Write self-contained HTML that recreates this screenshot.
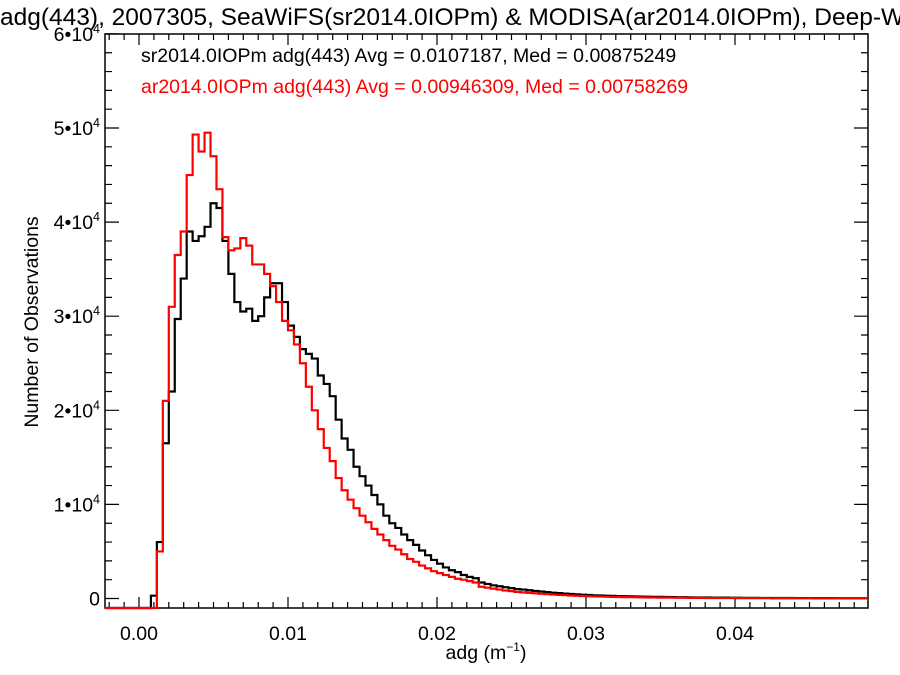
<!DOCTYPE html>
<html><head><meta charset="utf-8"><style>
html,body{margin:0;padding:0;background:#fff;width:900px;height:675px;overflow:hidden}
svg{display:block;font-family:"Liberation Sans",Helvetica,Arial,sans-serif}
</style></head><body>
<svg id="chart" width="900" height="675" viewBox="0 0 900 675" xmlns="http://www.w3.org/2000/svg">
<text x="0" y="25" font-size="24.5" fill="#000">adg(443), 2007305, SeaWiFS(sr2014.0IOPm) &amp; MODISA(ar2014.0IOPm), Deep-Water</text>
<text x="141" y="62" font-size="19.5" fill="#000">sr2014.0IOPm adg(443) Avg = 0.0107187, Med = 0.00875249</text>
<text x="141" y="93" font-size="19.5" fill="#ff0000">ar2014.0IOPm adg(443) Avg = 0.00946309, Med = 0.00758269</text>
<text transform="translate(38,322) rotate(-90)" text-anchor="middle" font-size="19.5">Number of Observations</text>
<text x="486" y="659" text-anchor="middle" font-size="19.5">adg (m<tspan dy="-8" font-size="12">−1</tspan><tspan dy="8">)</tspan></text>
<g id="axes"></g>
<g id="series"></g>
</svg>
<script>
const binWidth = 0.0004;
const sr2014 = [0,0,300,6000,16500,22000,29700,34000,39000,38000,38500,39500,42000,41500,38000,34500,31500,30500,30800,29500,30000,32000,33500,33500,31500,29000,27800,26500,26000,25500,23700,22800,21500,19000,17000,15800,14000,13000,12000,11000,10000,8800,8000,7500,6800,6200,5700,5100,4600,4100,3700,3300,3000,2800,2500,2300,2150,1700,1550,1400,1300,1200,1100,1000,950,880,800,740,680,620,570,520,480,440,400,370,
340,320,300,280,260,245,230,215,200,190,180,170,160,150,140,130,120,115,110,105,100,95,90,85,80,75,70,65,60,58,56,54,52,50,48,46,44,42,40,38,36,34,32,30,28,26];
const ar2014 = [0,0,0,5000,21000,31000,36500,39000,45000,49300,47500,49500,47000,43500,38400,37000,37200,38300,37500,35500,35500,34500,33200,31500,29500,28500,27000,25000,22500,20000,18000,16000,14600,12800,11500,10500,9600,8800,8100,7400,6800,6200,5600,5200,4700,4200,3900,3500,3200,2900,2700,2500,2300,2100,2000,1850,1700,1250,1150,1050,950,850,780,700,650,600,550,500,460,420,380,350,320,290,260,240,
220,205,190,175,160,150,140,130,120,110,100,95,90,85,80,75,70,65,60,55,50,48,46,44,42,40,38,36,34,32,30,28,26,24,22,20,18,16,14,12,10,9,8,7,6,5];
const xTickValues = [0,0.01,0.02,0.03,0.04];
const xTickLabels = ["0.00","0.01","0.02","0.03","0.04"];
const yTickValues = [0,10000,20000,30000,40000,50000,60000];
const yTickMant = ["0","1","2","3","4","5","6"];

const L=105,R=868,T=34,B=608;
const x0px=139, pxPerX=14900;
const y0px=598.5, pxPerY=94.1/10000;
const X=v=>x0px+v*pxPerX;
const Y=v=>Math.max(T,Math.min(B, v<=0?B:y0px-v*pxPerY));
const NS="http://www.w3.org/2000/svg";
function mk(tag,attrs,parent){const e=document.createElementNS(NS,tag);for(const k in attrs)e.setAttribute(k,attrs[k]);parent.appendChild(e);return e;}
const axes=document.getElementById('axes');
const frame=mk('rect',{x:L,y:T,width:R-L,height:B-T,fill:'none',stroke:'#000','stroke-width':1.5},axes);


let d='';
for(let k=-2;k<=48;k++){const v=k*0.001;const px=X(v);if(px<L||px>R)continue;const len=(k%10===0)?11:6;d+=`M${px},${B}v${-len}M${px},${T}v${len}`;}
for(let k=0;k<=30;k++){const v=k*2000;const py=y0px-v*pxPerY;if(py<T-0.5)continue;const len=(k%5===0)?14:7;d+=`M${L},${py}h${len}M${R},${py}h${-len}`;}
const tp=mk('path',{d:d,stroke:'#000','stroke-width':1.2,fill:'none'},axes);


xTickValues.forEach((v,i)=>{const t=mk('text',{x:X(v),y:640,'text-anchor':'middle','font-size':19.5},axes);t.textContent=xTickLabels[i];

});
yTickValues.forEach((v,i)=>{const py=y0px-v*pxPerY;const t=mk('text',{x:100,y:py+7,'text-anchor':'end','font-size':19.5},axes);


if(v===0){t.textContent='0';}else{t.innerHTML=yTickMant[i]+'•10<tspan dy="-8" font-size="12.5">4</tspan>';}});
const sg=document.getElementById('series');
function stepPath(vals){let p=`M${L},${B}`;vals.forEach((v,i)=>{const xa=Math.max(L,X(i*binWidth)),xb=Math.min(R,X((i+1)*binWidth));const y=Y(v);p+=`L${xa},${y}L${xb},${y}`;});p+=`L${R},${Y(vals[vals.length-1])}`;return p;}
const s1=mk('path',{d:stepPath(sr2014),fill:'none',stroke:'#000','stroke-width':2.2,'stroke-linejoin':'miter'},sg);


const s2=mk('path',{d:stepPath(ar2014),fill:'none',stroke:'#ff0000','stroke-width':2.2,'stroke-linejoin':'miter'},sg);


</script>
</body></html>
